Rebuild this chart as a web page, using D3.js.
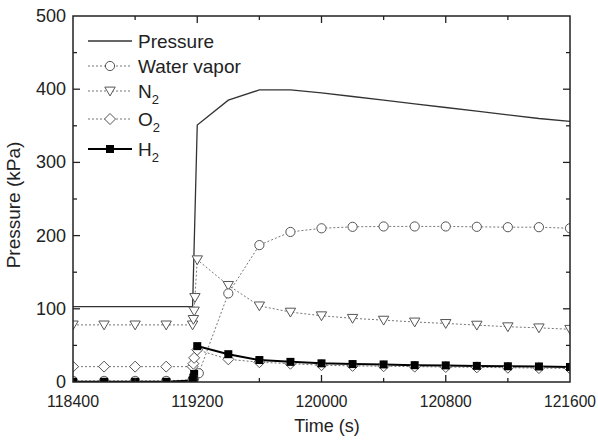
<!DOCTYPE html>
<html>
<head>
<meta charset="utf-8">
<script src="https://cdn.jsdelivr.net/npm/d3@7"></script>
<style>
    body { margin: 0; background: #fff; }
    svg { font-family: "Liberation Sans", Arial, sans-serif; }
</style>
</head>
<body>
<svg id="chart" width="598" height="440"></svg>
<script>
// Data
const pressureTime = [118400, 119170, 119200, 119400, 119600, 119800, 120000, 120200, 120400, 120600, 120800, 121000, 121200, 121400, 121600];
const pressureVal = [103, 103, 351, 385, 399, 399, 395, 390, 385, 380, 375, 370, 365, 360, 356];

const vaporTime = [118400, 118600, 118800, 119000, 119170, 119180, 119210, 119400, 119600, 119800, 120000, 120200, 120400, 120600, 120800, 121000, 121200, 121400, 121600];
const vaporVal = [1.5, 1.5, 1.5, 1.5, 3, 5, 12, 121, 187, 205, 210, 212, 212.5, 212.5, 212.5, 212, 211.5, 211.5, 210];

const n2Time = [118400, 118600, 118800, 119000, 119170, 119175, 119180, 119185, 119200, 119400, 119600, 119800, 120000, 120200, 120400, 120600, 120800, 121000, 121200, 121400, 121600];
const n2Val = [78, 78, 78, 78, 78, 85.5, 97, 115.5, 167, 132, 104, 95.5, 90.5, 87, 84.5, 82, 80, 77.7, 75.5, 74, 72];

const o2Time = [118400, 118600, 118800, 119000, 119170, 119175, 119180, 119200, 119400, 119600, 119800, 120000, 120200, 120400, 120600, 120800, 121000, 121200, 121400, 121600];
const o2Val = [21, 21, 21, 21, 21, 25, 33, 44, 31, 27, 25, 23, 22, 21.5, 21, 20.5, 20, 19.5, 19, 18.5];

const h2Time = [118400, 118600, 118800, 119000, 119170, 119175, 119180, 119200, 119400, 119600, 119800, 120000, 120200, 120400, 120600, 120800, 121000, 121200, 121400, 121600];
const h2Val = [0.3, 0.3, 0.3, 0.3, 2, 6, 11, 49, 38, 30, 27.5, 25.5, 24.5, 24, 23, 22.7, 22, 21.5, 21.2, 20.5];

const xTicks = [118400, 119200, 120000, 120800, 121600];
const xMinor = [118800, 119600, 120400, 121200];
const yTicks = [0, 100, 200, 300, 400, 500];
const yMinor = [50, 150, 250, 350, 450];

const svg = d3.select("#chart");
const plotLeft = 73, plotRight = 570, plotTop = 16, plotBottom = 382;

const x = d3.scaleLinear().domain([118400, 121600]).range([plotLeft, plotRight]);
const y = d3.scaleLinear().domain([0, 500]).range([plotBottom, plotTop]);

svg.append("clipPath").attr("id", "plotClip")
    .append("rect")
    .attr("x", plotLeft).attr("y", plotTop)
    .attr("width", plotRight - plotLeft).attr("height", plotBottom - plotTop);

const plot = svg.append("g").attr("clip-path", "url(#plotClip)");

const zip = (t, v) => t.map((d, i) => [d, v[i]]);
const line = d3.line().x(d => x(d[0])).y(d => y(d[1]));

// marker shapes
function drawMarker(g, kind, cx, cy) {
    if (kind === "circle") {
        g.append("circle").attr("cx", cx).attr("cy", cy).attr("r", 4.6)
            .attr("fill", "#fff").attr("stroke", "#555").attr("stroke-width", 1);
    } else if (kind === "triangle") {
        const s = 5.2;
        g.append("path")
            .attr("d", `M${cx - s},${cy - s * 0.75}L${cx + s},${cy - s * 0.75}L${cx},${cy + s * 0.95}Z`)
            .attr("fill", "#fff").attr("stroke", "#555").attr("stroke-width", 1);
    } else if (kind === "diamond") {
        const s = 5.5;
        g.append("path")
            .attr("d", `M${cx},${cy - s}L${cx + s},${cy}L${cx},${cy + s}L${cx - s},${cy}Z`)
            .attr("fill", "#fff").attr("stroke", "#555").attr("stroke-width", 1);
    } else if (kind === "square") {
        g.append("rect").attr("x", cx - 4).attr("y", cy - 4)
            .attr("width", 8).attr("height", 8).attr("fill", "#000");
    }
}

const series = [
    { t: o2Time, v: o2Val, kind: "diamond", dash: "2,2", color: "#777", width: 1 },
    { t: n2Time, v: n2Val, kind: "triangle", dash: "2,2", color: "#777", width: 1 },
    { t: vaporTime, v: vaporVal, kind: "circle", dash: "2,2", color: "#777", width: 1 },
    { t: h2Time, v: h2Val, kind: "square", dash: null, color: "#000", width: 2 }
];

// pressure line
plot.append("path")
    .datum(zip(pressureTime, pressureVal))
    .attr("d", line)
    .attr("fill", "none").attr("stroke", "#333").attr("stroke-width", 1.3);

series.forEach(s => {
    plot.append("path")
        .datum(zip(s.t, s.v))
        .attr("d", line)
        .attr("fill", "none")
        .attr("stroke", s.color)
        .attr("stroke-width", s.width)
        .attr("stroke-dasharray", s.dash);
});
series.forEach(s => {
    const g = plot.append("g");
    zip(s.t, s.v).forEach(d => drawMarker(g, s.kind, x(d[0]), y(d[1])));
});

// frame
svg.append("rect")
    .attr("x", plotLeft).attr("y", plotTop)
    .attr("width", plotRight - plotLeft).attr("height", plotBottom - plotTop)
    .attr("fill", "none").attr("stroke", "#222").attr("stroke-width", 1.5);

// ticks, inward on all sides
const ticks = svg.append("g").attr("stroke", "#222").attr("stroke-width", 1.3);
xTicks.slice(1, -1).forEach(t => {
    ticks.append("line").attr("x1", x(t)).attr("x2", x(t)).attr("y1", plotBottom).attr("y2", plotBottom - 7);
    ticks.append("line").attr("x1", x(t)).attr("x2", x(t)).attr("y1", plotTop).attr("y2", plotTop + 7);
});
xMinor.forEach(t => {
    ticks.append("line").attr("x1", x(t)).attr("x2", x(t)).attr("y1", plotBottom).attr("y2", plotBottom - 4);
    ticks.append("line").attr("x1", x(t)).attr("x2", x(t)).attr("y1", plotTop).attr("y2", plotTop + 4);
});
yTicks.slice(1, -1).forEach(t => {
    ticks.append("line").attr("x1", plotLeft).attr("x2", plotLeft + 7).attr("y1", y(t)).attr("y2", y(t));
    ticks.append("line").attr("x1", plotRight).attr("x2", plotRight - 7).attr("y1", y(t)).attr("y2", y(t));
});
yMinor.forEach(t => {
    ticks.append("line").attr("x1", plotLeft).attr("x2", plotLeft + 4).attr("y1", y(t)).attr("y2", y(t));
    ticks.append("line").attr("x1", plotRight).attr("x2", plotRight - 4).attr("y1", y(t)).attr("y2", y(t));
});

// tick labels
svg.append("g").selectAll("text")
    .data(xTicks).enter().append("text")
    .attr("x", d => x(d)).attr("y", 407)
    .attr("text-anchor", "middle")
    .attr("font-size", 16.5).attr("fill", "#222")
    .attr("textLength", 52).attr("lengthAdjust", "spacingAndGlyphs")
    .text(d => d);

svg.append("g").selectAll("text")
    .data(yTicks).enter().append("text")
    .attr("x", 66).attr("y", d => y(d) + 6)
    .attr("text-anchor", "end")
    .attr("font-size", 18).attr("fill", "#222")
    .text(d => d);

// axis titles
svg.append("text")
    .attr("x", 327).attr("y", 432)
    .attr("text-anchor", "middle")
    .attr("font-size", 18).attr("fill", "#222")
    .text("Time (s)");

svg.append("text")
    .attr("transform", `translate(20,${(plotTop + plotBottom) / 2 + 6}) rotate(-90)`)
    .attr("text-anchor", "middle")
    .attr("font-size", 19).attr("fill", "#222")
    .text("Pressure (kPa)");

// legend
const legendRows = [
    { label: "Pressure", sub: "", kind: null, dash: null, color: "#333", width: 1.3, y: 41 },
    { label: "Water vapor", sub: "", kind: "circle", dash: "2,2", color: "#777", width: 1, y: 66 },
    { label: "N", sub: "2", kind: "triangle", dash: "2,2", color: "#777", width: 1, y: 91 },
    { label: "O", sub: "2", kind: "diamond", dash: "2,2", color: "#777", width: 1, y: 119 },
    { label: "H", sub: "2", kind: "square", dash: null, color: "#000", width: 2, y: 149 }
];
const legend = svg.append("g");
legendRows.forEach(r => {
    legend.append("line")
        .attr("x1", 88).attr("x2", 132).attr("y1", r.y).attr("y2", r.y)
        .attr("stroke", r.color).attr("stroke-width", r.width)
        .attr("stroke-dasharray", r.dash);
    if (r.kind) drawMarker(legend, r.kind, 110, r.y);
    const txt = legend.append("text")
        .attr("x", 138).attr("y", r.y + 7)
        .attr("font-size", 19).attr("fill", "#222")
        .text(r.label);
    if (r.sub) {
        txt.append("tspan").attr("dy", 6).attr("font-size", 13).text(r.sub);
    }
});
</script>
</body>
</html>
